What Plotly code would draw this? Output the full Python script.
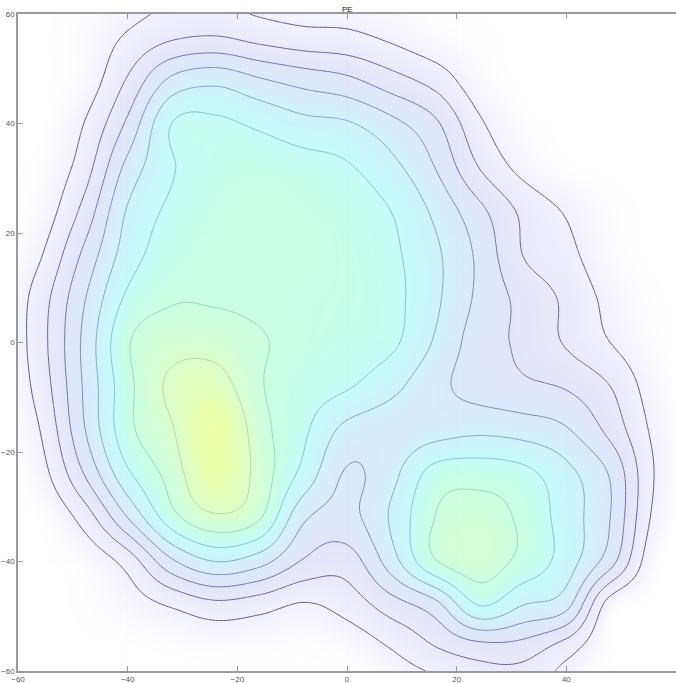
import numpy as np
import plotly.graph_objects as go

x_nodes = [-56, -48, -40, -32, -24, -16, -8, 0, 8, 16, 24, 32, 40, 48, 56]
y_nodes = [64, 56, 48, 40, 32, 24, 16, 8, 0, -8, -16, -24, -32, -40, -48, -56, -64]

row_p64 = [0, 0.01, 0.04, 0.08, 0.08, 0.05, 0.04, 0.04, 0.03, 0.01, 0, 0, 0, 0, 0]
row_p56 = [0, 0.03, 0.11, 0.18, 0.20, 0.16, 0.13, 0.12, 0.08, 0.03, 0.01, 0, 0, 0, 0]
row_p48 = [0, 0.04, 0.21, 0.42, 0.47, 0.41, 0.36, 0.32, 0.24, 0.16, 0.04, 0, 0, 0, 0]
row_p40 = [0, 0.10, 0.32, 0.60, 0.62, 0.58, 0.53, 0.51, 0.43, 0.32, 0.12, 0.02, 0, 0, 0]
row_p32 = [0.02, 0.15, 0.43, 0.59, 0.65, 0.66, 0.64, 0.61, 0.53, 0.40, 0.20, 0.07, 0.01, 0, 0]
row_p24 = [0.04, 0.23, 0.51, 0.62, 0.67, 0.68, 0.67, 0.65, 0.60, 0.48, 0.33, 0.18, 0.09, 0.02, 0]
row_p16 = [0.09, 0.32, 0.55, 0.65, 0.68, 0.68, 0.68, 0.66, 0.62, 0.52, 0.38, 0.20, 0.13, 0.03, 0]
row_p08 = [0.15, 0.39, 0.62, 0.69, 0.69, 0.68, 0.67, 0.66, 0.63, 0.52, 0.38, 0.27, 0.18, 0.07, 0.01]
row_000 = [0.16, 0.42, 0.69, 0.76, 0.76, 0.71, 0.67, 0.65, 0.62, 0.49, 0.35, 0.28, 0.19, 0.10, 0.02]
row_m08 = [0.14, 0.41, 0.67, 0.82, 0.85, 0.71, 0.65, 0.61, 0.53, 0.43, 0.36, 0.32, 0.29, 0.20, 0.05]
row_m16 = [0.10, 0.39, 0.67, 0.79, 0.95, 0.74, 0.62, 0.47, 0.44, 0.46, 0.48, 0.46, 0.41, 0.27, 0.08]
row_m24 = [0.06, 0.30, 0.58, 0.74, 0.92, 0.76, 0.57, 0.39, 0.47, 0.64, 0.66, 0.63, 0.53, 0.39, 0.10]
row_m32 = [0.01, 0.14, 0.40, 0.66, 0.78, 0.71, 0.42, 0.37, 0.51, 0.70, 0.74, 0.68, 0.55, 0.40, 0.08]
row_m40 = [0, 0.03, 0.14, 0.38, 0.50, 0.44, 0.29, 0.25, 0.45, 0.69, 0.75, 0.67, 0.55, 0.34, 0.03]
row_m48 = [0, 0.01, 0.05, 0.11, 0.17, 0.14, 0.09, 0.14, 0.25, 0.36, 0.60, 0.50, 0.43, 0.05, 0]
row_m56 = [0, 0, 0, 0.01, 0.02, 0.02, 0.01, 0.03, 0.10, 0.19, 0.25, 0.25, 0.14, 0.01, 0]
row_m64 = [0, 0, 0, 0, 0, 0, 0, 0, 0.02, 0.05, 0.12, 0.11, 0.04, 0, 0]

tick_vals = [-60, -40, -20, 0, 20, 40, 60]
levels = dict(start=0.1, end=0.8001, size=0.1)
title_text = "PE"

rows = [row_p64, row_p56, row_p48, row_p40, row_p32, row_p24, row_p16, row_p08, row_000,
        row_m08, row_m16, row_m24, row_m32, row_m40, row_m48, row_m56, row_m64]
V = np.array(rows, dtype=float)[::-1]          # ascending y
ys = np.array(y_nodes[::-1], dtype=float)
xs = np.array(x_nodes, dtype=float)
step = 8.0
pad = 2
Vp = np.pad(V, pad)
x0 = xs[0] - pad * step
y0 = ys[0] - pad * step


def cr_matrix(start, n, fine):
    W = np.zeros((len(fine), n))
    for k, t in enumerate(fine):
        u = (t - start) / step
        i = int(np.floor(u))
        s = u - i
        ws = [(-s**3 + 2*s**2 - s) / 2, (3*s**3 - 5*s**2 + 2) / 2,
              (-3*s**3 + 4*s**2 + s) / 2, (s**3 - s**2) / 2]
        for j, w in zip(range(i - 1, i + 3), ws):
            if 0 <= j < n:
                W[k, j] += w
    return W


xf = np.linspace(-60, 60, 241)
yf = np.linspace(-60, 60, 241)
Wx = cr_matrix(x0, Vp.shape[1], xf)
Wy = cr_matrix(y0, Vp.shape[0], yf)
F = np.clip(Wy @ Vp @ Wx.T, 0, None)

fill_scale = [
    [0.00, "#ffffff"], [0.04, "#faf9fe"], [0.10, "#f0effc"], [0.20, "#e9e8fb"],
    [0.30, "#e2e4fb"], [0.40, "#d9e8fc"], [0.50, "#cdf1fd"], [0.58, "#c3f9fc"],
    [0.65, "#c4fdec"], [0.72, "#ccffdc"], [0.80, "#d8ffc8"], [0.90, "#e8ffaa"],
    [1.00, "#eeff9a"],
]
line_scale = [
    [0.0, "#5e5a98"], [1/7, "#6266a2"], [2/7, "#6a78ae"], [3/7, "#7290bc"],
    [4/7, "#7aaeca"], [5/7, "#84c8d0"], [6/7, "#98d8c4"], [1.0, "#b8dca8"],
]

fig = go.Figure()
fig.add_trace(go.Heatmap(x=xf, y=yf, z=F, zmin=0, zmax=1, colorscale=fill_scale,
                         showscale=False, zsmooth="best", opacity=0.93, hoverinfo="skip"))
fig.add_trace(go.Contour(x=xf, y=yf, z=F, autocontour=False, contours=dict(
    coloring="lines", showlabels=False, **levels), colorscale=line_scale,
    zauto=False, zmin=0.1, zmax=0.8, line=dict(width=1.0, smoothing=1),
    showscale=False, hoverinfo="skip"))

axis_common = dict(range=[-60, 60], tickvals=tick_vals, ticks="inside", ticklen=5,
                   tickcolor="#9a9a9a", showline=True, linecolor="#9a9a9a", linewidth=1.5,
                   showgrid=True, gridcolor="#e4e4e4", gridwidth=1,
                   zeroline=False, automargin=False,
                   tickfont=dict(family="Liberation Sans, Arial", size=8, color="#555555"))
fig.update_xaxes(mirror="ticks", **axis_common)
fig.update_yaxes(mirror=False, **axis_common)
fig.add_annotation(text=title_text, x=0, xref="x", y=1, yref="paper", yanchor="bottom",
                   yshift=-2, showarrow=False,
                   font=dict(family="Liberation Sans, Arial", size=8, color="#222222"))
fig.update_layout(width=676, height=683, margin=dict(l=18, r=0, t=14, b=12),
                  plot_bgcolor="white", paper_bgcolor="white", showlegend=False)
fig.write_html("out.html", config={"displayModeBar": False},
               post_script="document.body.style.margin='0';document.body.style.overflow='hidden';")
